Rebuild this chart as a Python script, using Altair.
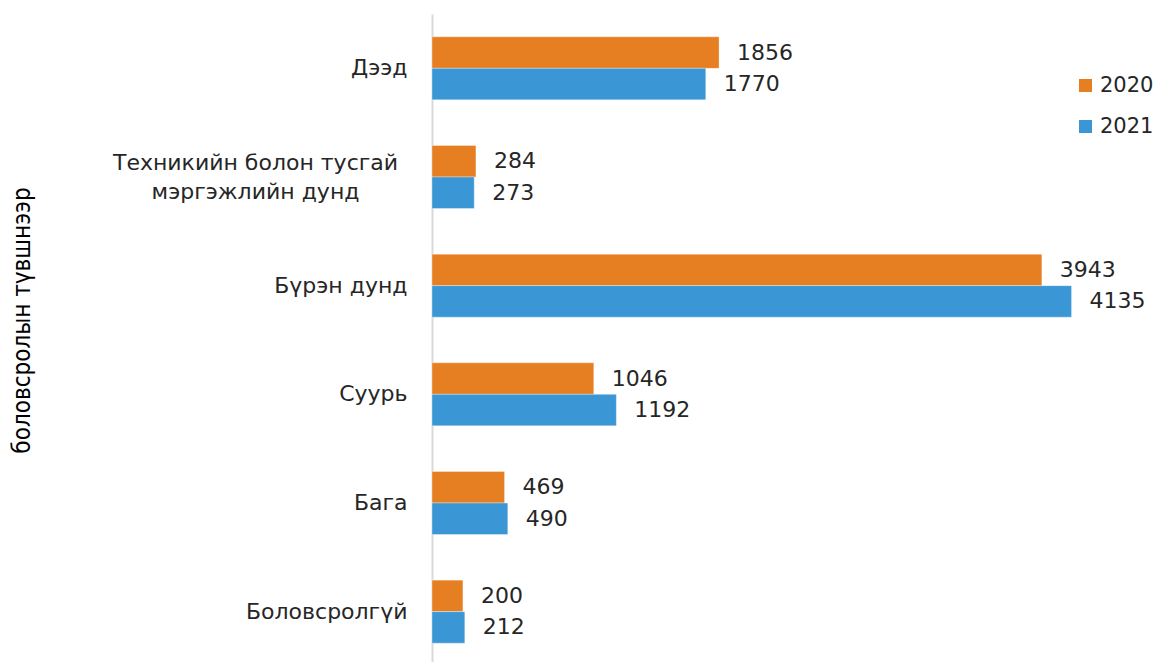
import altair as alt
import pandas as pd

categories = ["Дээд", "Техникийн болон тусгай мэргэжлийн дунд", "Бүрэн дунд",
              "Суурь", "Бага", "Боловсролгүй"]
years = ["2020", "2021"]
values_2020 = [1856, 284, 3943, 1046, 469, 200]
values_2021 = [1770, 273, 4135, 1192, 490, 212]

rows = []
for c, a, b in zip(categories, values_2020, values_2021):
    rows.append({"cat": c, "year": "2020", "value": a})
    rows.append({"cat": c, "year": "2021", "value": b})
df = pd.DataFrame(rows)

FONT = "DejaVu Sans"
multi = "Техникийн болон тусгай мэргэжлийн дунд"
is_multi = f"datum.value == '{multi}'"

y_enc = alt.Y(
    "cat:N", sort=categories,
    scale=alt.Scale(paddingInner=0.42, paddingOuter=0.21),
    axis=alt.Axis(
        title="боловсролын түвшнээр",
        titleFont="Liberation Sans Narrow, DejaVu Sans Condensed, Roboto",
        titleFontSize=24, titleFontWeight="normal", titleColor="#000000",
        titleAngle=270, titleX=-410, titleY=306,
        titleAlign="center", titleBaseline="middle",
        labelFont=FONT, labelFontSize=22, labelColor="#262626",
        labelLimit=400, labelLineHeight=29,
        labelExpr=f"{is_multi} ? ['Техникийн болон тусгай', 'мэргэжлийн дунд'] : datum.value",
        labelAlign={"condition": {"test": is_multi, "value": "center"}, "value": "right"},
        labelPadding={"condition": {"test": is_multi, "value": 177}, "value": 25},
        labelOffset={"condition": {"test": is_multi, "value": -14}, "value": 0},
        ticks=False, domainColor="#d9d9d9", domainWidth=2,
    ),
)
yoff = alt.YOffset("year:N", sort=years, scale=alt.Scale(paddingInner=0, paddingOuter=0))
x_enc = alt.X("value:Q", scale=alt.Scale(domain=[0, 4500]), axis=None)

bars = alt.Chart(df).mark_bar(stroke="#ffffff", strokeOpacity=0.35, strokeWidth=1).encode(
    x=x_enc, y=y_enc, yOffset=yoff,
    color=alt.Color("year:N", sort=years,
                    scale=alt.Scale(domain=years, range=["#E67E22", "#3A96D4"]),
                    legend=alt.Legend(
                        title=None, orient="none", legendX=643, legendY=61,
                        symbolType="square", symbolSize=170, symbolStrokeWidth=0,
                        labelFont=FONT, labelFontSize=21, labelColor="#262626",
                        rowPadding=19, labelOffset=4,
                    )),
)
labels = alt.Chart(df).mark_text(align="left", baseline="middle", dx=18,
                                 font=FONT, fontSize=22, color="#262626").encode(
    x=x_enc, y=alt.Y("cat:N", sort=categories), yOffset=yoff, text="value:Q",
)

chart = alt.layer(bars, labels).properties(
    width=696, height=652,
    autosize=alt.AutoSizeParams(type="none"),
    padding={"left": 424, "top": 6, "right": 28, "bottom": 0},
    background="#ffffff",
).configure_view(stroke=None)

chart.save("out.html", embed_options={"renderer": "svg", "actions": False})
